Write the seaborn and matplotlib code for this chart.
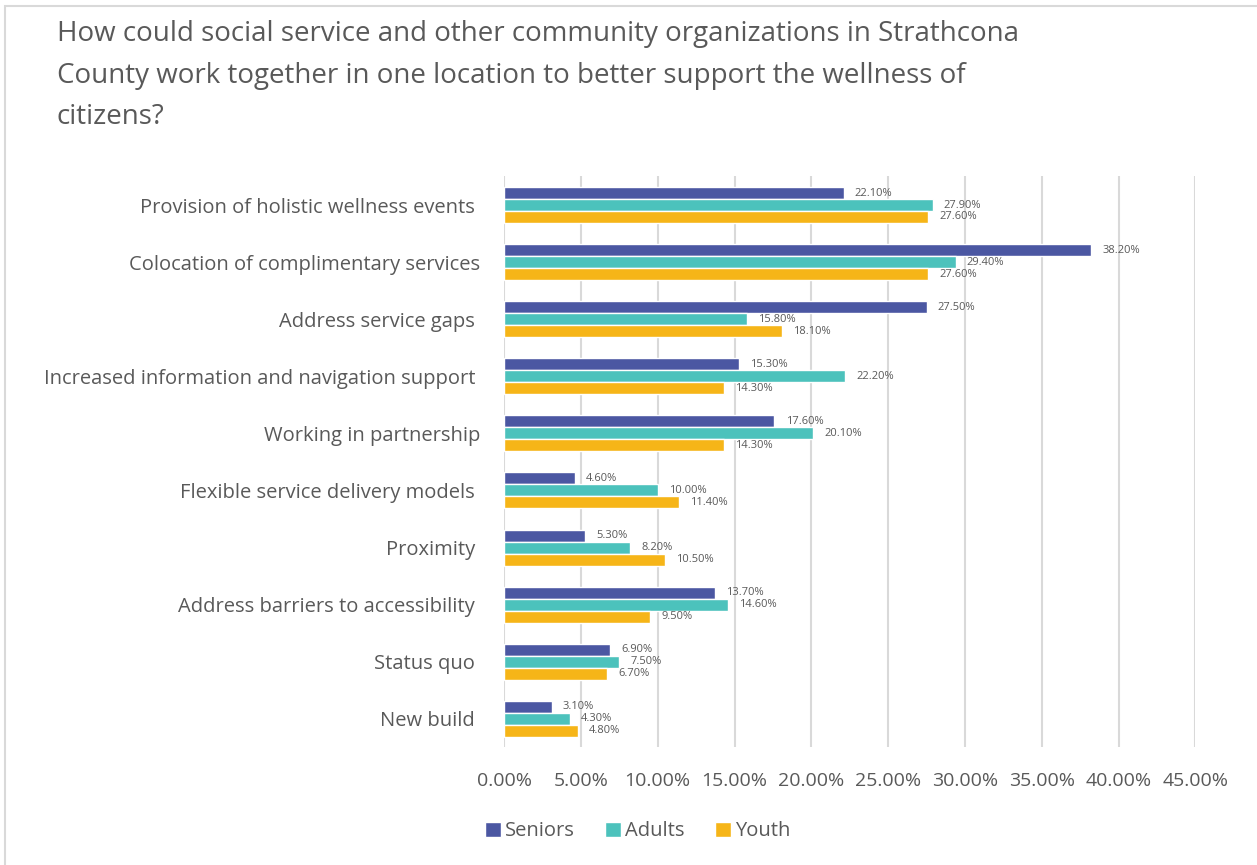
import matplotlib
matplotlib.use("Agg")
import matplotlib.pyplot as plt
import seaborn as sns
import pandas as pd
from matplotlib.patches import Rectangle
from matplotlib.ticker import FuncFormatter

categories = [
    "Provision of holistic wellness events ",
    "Colocation of complimentary services",
    "Address service gaps ",
    "Increased information and navigation support ",
    "Working in partnership",
    "Flexible service delivery models ",
    "Proximity ",
    "Address barriers to accessibility ",
    "Status quo ",
    "New build ",
]
seniors = [22.1, 38.2, 27.5, 15.3, 17.6, 4.6, 5.3, 13.7, 6.9, 3.1]
adults = [27.9, 29.4, 15.8, 22.2, 20.1, 10.0, 8.2, 14.6, 7.5, 4.3]
youth = [27.6, 27.6, 18.1, 14.3, 14.3, 11.4, 10.5, 9.5, 6.7, 4.8]
groups = ["Seniors", "Adults", "Youth"]
colors = ["#4B57A2", "#4CC2BC", "#F6B518"]
x_ticks = [0, 5, 10, 15, 20, 25, 30, 35, 40, 45]

rows = []
for g, vals in zip(groups, [seniors, adults, youth]):
    for c, v in zip(categories, vals):
        rows.append({"category": c, "group": g, "value": v})
df = pd.DataFrame(rows)

sns.set_style("white")
plt.rcParams["font.family"] = ["Open Sans", "DejaVu Sans"]
text_color = "#595959"

fig = plt.figure(figsize=(12.57, 8.65), dpi=100)
ax = fig.add_axes([0.401, 0.136, 0.550, 0.660])

sns.barplot(data=df, y="category", x="value", hue="group", order=categories,
            hue_order=groups, palette=colors, orient="h", width=0.63,
            saturation=1, ax=ax, legend=True)

for cont in ax.containers:
    ax.bar_label(cont, labels=[f"{b.get_width():.2f}%" for b in cont],
                 padding=8, fontsize=8, color=text_color)

ax.set_xlim(0, 45)
ax.set_xticks(x_ticks)
ax.xaxis.set_major_formatter(FuncFormatter(lambda v, p: f"{v:.2f}%"))
ax.grid(axis="x", color="#D9D9D9", linewidth=1.5)
ax.set_axisbelow(True)
for s in ax.spines.values():
    s.set_visible(False)
ax.set_xlabel("")
ax.set_ylabel("")
ax.tick_params(axis="x", labelsize=14, colors=text_color, pad=18, length=0)
ax.tick_params(axis="y", labelsize=14.5, colors=text_color, pad=17, length=0)

handles, labels = ax.get_legend_handles_labels()
ax.get_legend().remove()
fig.legend(handles, labels, loc="center", bbox_to_anchor=(0.507, 0.039), ncol=3,
           frameon=False, fontsize=14.5, handlelength=0.8, handleheight=0.8,
           handletextpad=0.2, columnspacing=1.5, labelcolor=text_color)

fig.text(0.045, 0.977, "How could social service and other community organizations in Strathcona\n"
         "County work together in one location to better support the wellness of\n"
         "citizens?", fontsize=20, color=text_color, va="top", ha="left",
         linespacing=1.65)

fig.patches.append(Rectangle((5 / 1257, -0.01), 1.1, 1 - 6 / 865 + 0.01,
                             transform=fig.transFigure, fill=False,
                             edgecolor="#D9D9D9", linewidth=1.5))

fig.savefig("out.png", dpi=100)
